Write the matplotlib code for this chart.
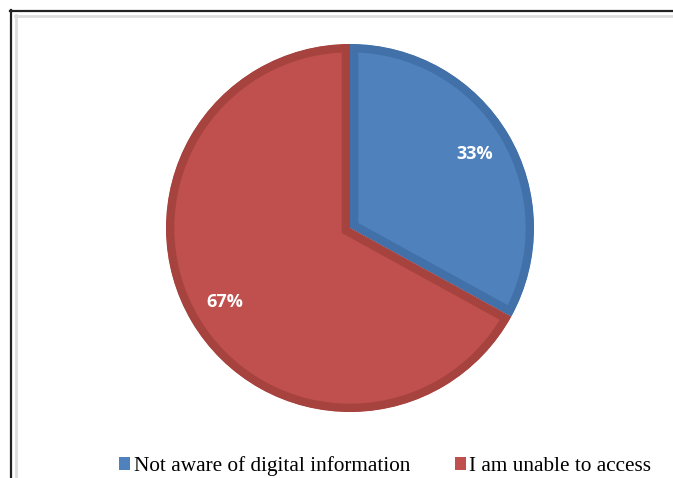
import matplotlib
matplotlib.use("Agg")
import matplotlib.pyplot as plt
from matplotlib.lines import Line2D
from matplotlib.patches import Patch

labels = ["Not aware of digital information", "I am unable to access"]
shares = [33, 67]
face_colors = ["#4F81BD", "#C0504D"]
edge_colors = ["#4270A8", "#A6433F"]

W, H = 673, 478
fig = plt.figure(figsize=(W / 100, H / 100), dpi=100)
ax = fig.add_axes([0, 0, 1, 1])

wedges, texts, autotexts = ax.pie(
    shares, colors=face_colors, startangle=90, counterclock=False,
    center=(350, H - 228), radius=184, autopct="%d%%", pctdistance=0.79,
    textprops=dict(color="white", fontsize=13, fontweight="bold",
                   family="Open Sans"),
    frame=True,
)
ax.set_xlim(0, W)
ax.set_ylim(0, H)
ax.set_aspect("equal")
ax.axis("off")

# darker inner rim on each slice (stroke clipped to the slice itself)
for w, ec in zip(wedges, edge_colors):
    w.set_edgecolor(ec)
    w.set_linewidth(12)
    w.set_clip_on(True)
    w.set_clip_path(w)

# frame lines
fig.add_artist(Line2D([10.5 / W, 10.5 / W], [0, 1 - 10 / H],
                      color="#222222", lw=1.6, transform=fig.transFigure))
fig.add_artist(Line2D([10 / W, 1], [1 - 10.5 / H, 1 - 10.5 / H],
                      color="#222222", lw=1.6, transform=fig.transFigure))
fig.add_artist(Line2D([16 / W, 16 / W], [0, 1 - 15 / H],
                      color="#dddddd", lw=2, transform=fig.transFigure))
fig.add_artist(Line2D([15 / W, 1], [1 - 16 / H, 1 - 16 / H],
                      color="#dddddd", lw=2, transform=fig.transFigure))

handles = [Patch(facecolor=c, edgecolor="none") for c in face_colors]
fig.legend(handles, labels, loc="center", bbox_to_anchor=(385 / W, 1 - 466 / H),
           ncol=2, frameon=False, handlelength=0.55, handleheight=0.55,
           handletextpad=0.15, columnspacing=2.1,
           prop=dict(family="Liberation Serif", size=15.3))

fig.savefig("out.png", dpi=100)
